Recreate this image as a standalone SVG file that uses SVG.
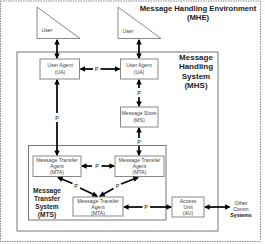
<svg xmlns="http://www.w3.org/2000/svg" width="265" height="244" viewBox="0 0 265 244">
<defs>
<style>
.bg{fill:#fff}
.env{fill:none;stroke:#888;stroke-width:1;stroke-dasharray:1.5,1}
.frame{fill:none;stroke:#777;stroke-width:1}
.box{fill:#fff;stroke:#888;stroke-width:1}
.t{font-family:"Liberation Sans",Arial,sans-serif;font-size:5.2px;fill:#444;text-anchor:middle}
.p{font-family:"Liberation Sans",Arial,sans-serif;font-size:5.5px;fill:#111;text-anchor:middle}
.h{font-family:"Liberation Sans",Arial,sans-serif;font-weight:bold;fill:#222;text-anchor:middle}
.a{stroke:#000;stroke-width:1.7;fill:none}
.ab{marker-start:url(#ah);marker-end:url(#ah)}
.ae{marker-end:url(#ah)}
.as{marker-start:url(#ah)}
</style>
<marker id="ah" viewBox="0 0 6 6" refX="5" refY="3" markerWidth="6" markerHeight="5.5" markerUnits="userSpaceOnUse" orient="auto-start-reverse">
<path d="M0,0 L6,3 L0,6 z" fill="#000"/>
</marker>
</defs>
<rect class="bg" x="0" y="0" width="265" height="244"/>
<rect class="env" x="0.5" y="1" width="260" height="240.5"/>
<text class="h" x="198" y="11" font-size="7.7">Message Handling Environment</text>
<text class="h" x="198" y="20" font-size="7.7">(MHE)</text>

<g id="mhs">
<rect class="frame" x="17" y="52" width="201" height="179"/>
<text class="h" font-size="8" x="196" y="60">Message</text>
<text class="h" font-size="8" x="196" y="69">Handling</text>
<text class="h" font-size="8" x="196" y="79">System</text>
<text class="h" font-size="8" x="196" y="88">(MHS)</text>
</g>

<g id="mts">
<rect class="frame" x="28.5" y="145.5" width="137.5" height="74.5"/>
<text class="h" font-size="6.6" x="47" y="193">Message</text>
<text class="h" font-size="6.6" x="47" y="201">Transfer</text>
<text class="h" font-size="6.6" x="47" y="209">System</text>
<text class="h" font-size="6.6" x="47" y="217">(MTS)</text>
</g>

<g id="user1">
<path class="box" d="M37,7 L37,38.5 L80,38.5 Z"/>
<text class="t" x="47" y="32">User</text>
</g>
<g id="user2">
<path class="box" d="M118,7 L118,38.5 L161,38.5 Z"/>
<text class="t" x="128" y="33">User</text>
</g>

<g id="ua1">
<rect class="box" x="40" y="59" width="39.5" height="20"/>
<text class="t" x="60" y="67">User Agent</text>
<text class="t" x="60" y="73.5">(UA)</text>
</g>
<g id="ua2">
<rect class="box" x="120.5" y="59" width="37.5" height="20"/>
<text class="t" x="139" y="67">User Agent</text>
<text class="t" x="139" y="73.5">(UA)</text>
</g>
<g id="ms">
<rect class="box" x="120.5" y="107" width="37.5" height="20"/>
<text class="t" x="139" y="115">Message Store</text>
<text class="t" x="139" y="122">(MS)</text>
</g>
<g id="mta1">
<rect class="box" x="33" y="156" width="48" height="20.5"/>
<text class="t" x="57" y="162">Message Transfer</text>
<text class="t" x="57" y="168">Agent</text>
<text class="t" x="57" y="174">(MTA)</text>
</g>
<g id="mta2">
<rect class="box" x="115" y="156" width="49" height="20.5"/>
<text class="t" x="139.5" y="162">Message Transfer</text>
<text class="t" x="139.5" y="168">Agent</text>
<text class="t" x="139.5" y="174">(MTA)</text>
</g>
<g id="mta3">
<rect class="box" x="73" y="197" width="50" height="19"/>
<text class="t" x="98" y="203">Message Transfer</text>
<text class="t" x="98" y="209">Agent</text>
<text class="t" x="98" y="215">(MTA)</text>
</g>
<g id="au">
<rect class="box" x="172" y="197" width="32" height="20"/>
<text class="t" x="188" y="202.5">Access</text>
<text class="t" x="188" y="208.5">Unit</text>
<text class="t" x="188" y="214.5">(AU)</text>
</g>
<g id="other">
<text class="t" x="241" y="204.5" style="fill:#333">Other</text>
<text class="t" x="241" y="210.5" style="fill:#333">Comm</text>
<text class="t" x="241" y="216.5" style="fill:#111;font-weight:bold">Systems</text>
</g>

<g id="connectors">
<line class="a ab" x1="57" y1="40" x2="57" y2="58"/>
<line class="a ab" x1="139" y1="40" x2="139" y2="58"/>

<line class="a as" x1="80.5" y1="69" x2="93" y2="69"/>
<text class="p" x="96.5" y="71">P</text>
<line class="a ae" x1="100.5" y1="69" x2="119.5" y2="69"/>

<line class="a as" x1="139" y1="80" x2="139" y2="88"/>
<text class="p" x="139" y="95">P</text>
<line class="a ae" x1="139" y1="97" x2="139" y2="106"/>

<line class="a as" x1="139" y1="128" x2="139" y2="138"/>
<text class="p" x="139" y="144">P</text>
<line class="a ae" x1="139" y1="146" x2="139" y2="155"/>

<line class="a as" x1="57" y1="80" x2="57" y2="113"/>
<text class="p" x="57" y="119.5">P</text>
<line class="a ae" x1="57" y1="122" x2="57" y2="155"/>

<line class="a as" x1="82" y1="166" x2="92" y2="166"/>
<text class="p" x="97" y="168">P</text>
<line class="a ae" x1="101.5" y1="166" x2="114" y2="166"/>

<line class="a as" x1="58" y1="177.5" x2="72.5" y2="183.5"/>
<text class="p" x="76" y="187.5">P</text>
<line class="a ae" x1="80" y1="188" x2="97" y2="196"/>

<line class="a as" x1="138" y1="177.5" x2="121" y2="184"/>
<text class="p" x="117.5" y="187.5">P</text>
<line class="a ae" x1="113.5" y1="188.5" x2="100" y2="196"/>

<line class="a as" x1="124" y1="207" x2="142.5" y2="207"/>
<text class="p" x="146" y="209">P</text>
<line class="a ae" x1="150" y1="207" x2="171" y2="207"/>

<line class="a ab" x1="205" y1="207" x2="229.5" y2="207"/>
</g>
</svg>
